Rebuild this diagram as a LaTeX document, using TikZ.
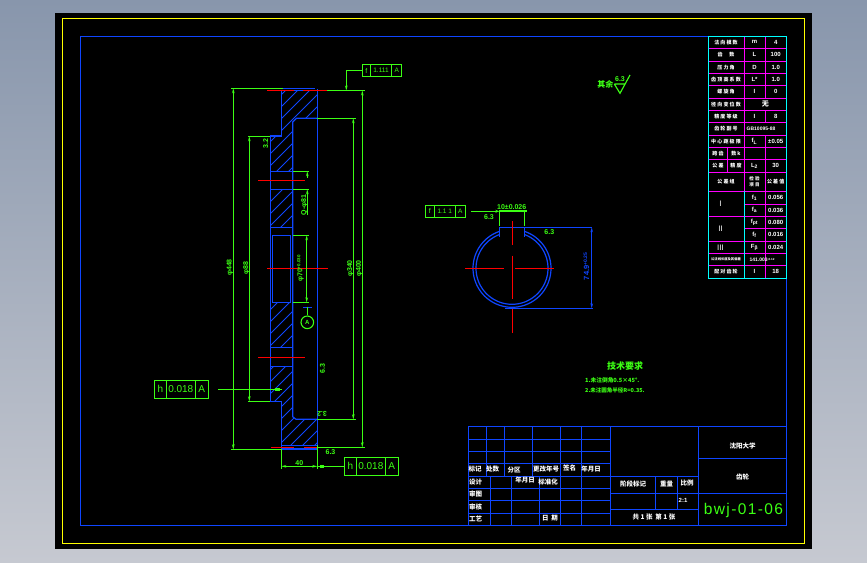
\documentclass[tikz,border=0pt]{standalone}
\usepackage{fontspec}
\setmainfont{Liberation Sans}
\newfontfamily\cjk{Noto Sans CJK SC}
\usetikzlibrary{arrows.meta}
\definecolor{cadgreen}{RGB}{60,255,20}
\definecolor{cadblue}{RGB}{15,70,255}
\definecolor{cadred}{RGB}{255,0,0}
\definecolor{cadyellow}{RGB}{255,255,0}
\definecolor{cadmag}{RGB}{255,0,255}
\definecolor{cadcyan}{RGB}{0,255,255}
\tikzset{
  gl/.style={draw=cadgreen,line width=1.15pt},
  bl/.style={draw=cadblue,line width=1.2pt},
  rl/.style={draw=cadred,line width=1.2pt},
  ml/.style={draw=cadmag,line width=1.15pt},
  cl/.style={draw=cadcyan,line width=1.2pt},
  hl/.style={draw=cadblue,line width=0.8pt},
  dimline/.style={gl,{Stealth[length=5pt,width=2.6pt]}-{Stealth[length=5pt,width=2.6pt]}},
  gt/.style={text=cadgreen,inner sep=0pt,font=\fontsize{7}{7}\selectfont\bfseries},
  bt/.style={text=cadblue,inner sep=0pt,font=\fontsize{7.5}{7.5}\selectfont\bfseries},
  wt/.style={text=white,inner sep=0pt,font=\fontsize{5}{5}\selectfont\cjk\bfseries},
  wn/.style={text=white,inner sep=0pt,font=\fontsize{6}{6}\selectfont\bfseries},
  tt/.style={text=white,inner sep=0pt,font=\fontsize{6.5}{6.5}\selectfont\cjk\bfseries},
  frametxt/.style={text=cadgreen,inner sep=0pt,font=\fontsize{10}{10}\selectfont},
}
\newcommand{\hatchfill}[1]{\begin{scope}\clip #1;\foreach \k in {260,272,...,800}{\draw[hl] (\k,80)--(\k-400,480);}\end{scope}}
\newcommand{\fcframe}[9]{%
  \draw[gl] (#1,#5) rectangle (#4,#6) (#2,#5)--(#2,#6) (#3,#5)--(#3,#6);
  \node[frametxt] at ({(#1+#2)/2},{(#5+#6)/2}) {#7};
  \node[frametxt] at ({(#2+#3)/2},{(#5+#6)/2}) {#8};
  \node[frametxt] at ({(#3+#4)/2},{(#5+#6)/2}) {#9};}
\begin{document}
\begin{tikzpicture}[x=1pt,y=-1pt]
\useasboundingbox (0,0) rectangle (867,562);
\shade[top color={rgb,255:red,136;green,150;blue,172},bottom color={rgb,255:red,198;green,201;blue,209}] (0,0) rectangle (867,562);
\fill[black] (55,13) rectangle (812,549);
\draw[draw=cadyellow,line width=1.2pt] (62.3,18.5) rectangle (804.3,543.3);
\draw[bl] (80.5,36.5) rectangle (786.3,525.3);
% hatching
\def\regA{(281.3,90.5)--(317.3,90.5)--(317.3,118.3)--(296.5,118.3)--(292.7,122)--(292.7,171.3)--(270.3,171.3)--(270.3,136)--(281.3,136)--cycle}
\def\regB{(270.3,189.3) rectangle (292.7,227.3)}
\def\regC{(270.3,302.3) rectangle (292.7,347.3)}
\def\regD{(270.3,366.3)--(292.7,366.3)--(292.7,416.7)--(296,419.3)--(317.3,419.3)--(317.3,445.3)--(281.3,445.3)--(281.3,401.3)--(270.3,401.3)--cycle}
\hatchfill{\regA}\hatchfill{\regB}\hatchfill{\regC}\hatchfill{\regD}
% section outline
\draw[bl] (283,88.5)--(315,88.5);
\draw[bl] (281.3,90.5)--(281.3,136)--(270.3,136)--(270.3,401.3)--(281.3,401.3)--(281.3,449)--(317.3,449);
\draw[bl] (281.3,90.5)--(317.3,90.5) (317.3,88.5)--(317.3,449);
\draw[bl] (317.3,118.3)--(296.5,118.3)--(292.7,122)--(292.7,416.7)--(296,419.3)--(317.3,419.3);
\draw[bl] (281.3,445.3)--(317.3,445.3);
\draw[bl] (270.3,171.3)--(292.7,171.3) (270.3,189.3)--(292.7,189.3) (270.3,227.3)--(292.7,227.3);
\draw[bl] (270.3,347.3)--(292.7,347.3) (270.3,366.3)--(292.7,366.3);
\draw[bl] (272.3,235.3) rectangle (290.5,302.3);
\draw[bl] (303,307.3)--(312,307.3);
% centre lines
\draw[rl] (267,90.5)--(294,90.5) (303,90.5)--(327,90.5);
\draw[rl] (258,180.3)--(305,180.3);
\draw[rl] (267,268.3)--(327.7,268.3);
\draw[rl] (258,357.3)--(305,357.3);
\draw[rl] (271,447.3)--(294,447.3) (304,447.3)--(320,447.3);
% extension lines
\coordinate (d1t) at (233.3,88.3); \coordinate (d1b) at (233.3,449.3);
\coordinate (d2t) at (249.3,136.3); \coordinate (d2b) at (249.3,401.3);
\coordinate (d3t) at (362.3,90.5); \coordinate (d3b) at (362.3,447.3);
\coordinate (d4t) at (353.3,118.3); \coordinate (d4b) at (353.3,419.3);
\draw[gl] (231.3,88.3)--(283,88.3) (231.3,449.3)--(281.3,449.3);
\draw[gl] (248,136.3)--(270.3,136.3) (248,401.3)--(270.3,401.3);
\draw[gl] (327,90.5)--(365,90.5) (317.3,447.3)--(365,447.3);
\draw[gl] (317.3,118.3)--(356,118.3) (317.3,419.3)--(356,419.3);
\draw[dimline] (d1t)--(d1b);
\draw[dimline] (d2t)--(d2b);
\draw[dimline] (d3t)--(d3b);
\draw[dimline] (d4t)--(d4b);
\draw[gl] (292.7,171.3)--(309,171.3) (292.7,189.3)--(309,189.3);
\draw[gl,{Stealth[length=5pt,width=2.6pt]}-] (307.3,171.3)--(307.3,178);
\draw[gl,-{Stealth[length=5pt,width=2.6pt]}] (307.3,215)--(307.3,189.3);
\draw[gl] (292.7,235.3)--(308.5,235.3) (292.7,302.3)--(308.5,302.3);
\draw[dimline] (306.7,235.3)--(306.7,302.3);
% dimension texts
\node[gt,rotate=90] (t448) at (230,267.5) {φ448};
\node[gt,rotate=90] (t88) at (246.3,268) {φ88};
\node[gt,rotate=90] (t340) at (350.5,268.5) {φ340};
\node[gt,rotate=90] (t400) at (359.2,268.5) {φ400};
\node[gt,rotate=90] (t81) at (304.3,205) {Q-φ81};
\node[gt,rotate=90] (t70) at (300.5,268.5) {φ70\raisebox{2pt}{\fontsize{4.5}{4.5}\selectfont +0.030}};
\node[gt] (t40) at (299.3,463) {40};
% roughness marks
\node[gt,rotate=90] (r1) at (265.8,143.3) {3.2};
\node[gt,rotate=90] (r2) at (322.5,368.3) {6.3};
\node[gt,rotate=180] (r3) at (322,413.5) {3.2};
\node[gt] (r4) at (330.5,452) {6.3};
\node[gt] (r5) at (489,216.8) {6.3};
\node[gt] (r6) at (549.3,232.3) {6.3};
% datum
\node[draw=cadgreen,line width=1.1pt,circle,minimum size=12.6pt,inner sep=0pt,text=cadgreen,font=\fontsize{6}{6}\selectfont\bfseries] (datum) at (307.3,322.3) {A};
\coordinate (dat0) at (307.3,307.3);
\draw[gl] (dat0)--(datum);
% control frames
\fcframe{362.3}{370.3}{391.7}{401.7}{64.3}{76.7}{\fontsize{7}{7}\selectfont f}{\fontsize{6.5}{6.5}\selectfont 1.111}{\fontsize{6.5}{6.5}\selectfont A}
\draw[gl,-{Stealth[length=5pt,width=2.6pt]}] (362.3,70.5)--(346.3,70.5)--(346.3,90.5);
\fcframe{154.3}{166.3}{195.3}{208.3}{380.3}{398.3}{h}{0.018}{A}
\draw[gl] (218,389.3)--(281.7,389.3);
\fill[cadgreen] (275,387.8) rectangle (279.5,390.8);
\fcframe{344.3}{356.3}{385.3}{398.3}{457.3}{475.3}{h}{0.018}{A}
\draw[gl] (281.3,449)--(281.3,469) (317.3,445.3)--(317.3,469);
\draw[gl] (317.3,466.3)--(344.3,466.3);
\draw[dimline] (281.3,466.3)--(317.3,466.3);
\fill[cadgreen] (320,465) rectangle (323.5,467.8);
% key view
\draw[bl] plot[domain=109.5:430.5,samples=90] ({512+39*cos(\x)},{268.3-39*sin(\x)});
\draw[bl] plot[domain=111.2:428.8,samples=90] ({512+36*cos(\x)},{268.3-36*sin(\x)});
\draw[bl] (499.3,236.7)--(499.3,227.3)--(591.7,227.3) (524.3,236.7)--(524.3,227.3);
\draw[bl] (505,308.3)--(593,308.3);
\draw[bl,{Stealth[length=5pt,width=2.6pt]}-{Stealth[length=5pt,width=2.6pt]}] (591.7,227.3)--(591.7,308.3);
\node[bt,rotate=90] (t749) at (586.5,266.5) {74.9\raisebox{2pt}{\fontsize{5}{5}\selectfont +0.25}};
\draw[rl] (465,268.3)--(504,268.3) (515,268.3)--(554,268.3);
\draw[rl] (512.3,221)--(512.3,244.7) (512.3,255.7)--(512.3,299) (512.3,309.3)--(512.3,333);
\draw[gl] (499.3,211)--(499.3,226) (524.3,211)--(524.3,226);
\draw[gl] (499.3,211)--(527,211);
\node[gt] (t10) at (511.7,207.3) {10±0.026};
\fcframe{425.3}{434.3}{455.3}{465.3}{205.3}{217.3}{\fontsize{7}{7}\selectfont f}{\fontsize{6.5}{6.5}\selectfont 1.1 1}{\fontsize{6.5}{6.5}\selectfont A}
\draw[gl,-{Stealth[length=4pt,width=3pt]}] (471,211.3)--(499.3,211.3);
% general finish
\node[text=cadgreen,inner sep=0pt,font=\fontsize{8}{8}\selectfont\cjk\bfseries] (qy) at (605.3,84.3) {其余};
\node[gt] (r7) at (620,79.3) {6.3};
\draw[gl] (614.3,84)--(625.7,84) (614.3,84)--(620,93.3)--(630,75);
% technical notes
\node[text=cadgreen,inner sep=0pt,font=\fontsize{9}{9}\selectfont\cjk\bfseries] (jsyq) at (625,366) {技术要求};
\node[text=cadgreen,inner sep=0pt,anchor=west,font=\fontsize{5.7}{5.7}\selectfont\cjk\bfseries] (n1) at (585,380) {1.未注倒角0.5×45°.};
\node[text=cadgreen,inner sep=0pt,anchor=west,font=\fontsize{5.5}{5.5}\selectfont\cjk\bfseries] (n2) at (585,390.7) {2.未注圆角半径R=0.35.};
% title block
\draw[bl] (468.3,426.3)--(786.3,426.3);
\draw[bl] (468.3,426.3)--(468.3,525.3);
\foreach \x in {486.3,504.3,532.3}{\draw[bl] (\x,426.3)--(\x,476.3);}
\foreach \x in {560.3,581.3,610.3}{\draw[bl] (\x,426.3)--(\x,525.3);}
\foreach \x in {490.3,511.3,539.3}{\draw[bl] (\x,476.3)--(\x,525.3);}
\foreach \y in {439.3,451.3,463.3,476.3,488.3,500.3,513.3}{\draw[bl] (468.3,\y)--(610.3,\y);}
\draw[bl] (698.3,426.3)--(698.3,525.3);
\draw[bl] (698.3,458.3)--(786.3,458.3) (698.3,493.3)--(786.3,493.3);
\draw[bl] (610.3,476.3)--(698.3,476.3) (610.3,493.3)--(698.3,493.3) (610.3,509.3)--(698.3,509.3);
\draw[bl] (655.3,476.3)--(655.3,509.3) (677.7,476.3)--(677.7,509.3);
\foreach \x/\y/\t in {475/469.3/标记,492.5/469/处数,514/469.8/分区,546/469.3/更改年号,569.5/468/签名,591/469/年月日,
  475.5/482.3/设计,525/480.5/年月日,548/482/标准化,475.5/494.3/审图,475.5/506.5/审核,475.5/519.3/工艺,
  633/483.5/阶段标记,666.5/484/重量,687/483.5/比例,742.5/446/沈阳大学,742.5/477.5/齿轮}
  {\node[tt] at (\x,\y) {\t};}
\node[tt] at (550,518.5) {日\ \ 期};
\node[wn] at (683,500.5) {2:1};
\node[tt] at (654,517) {共\ 1\ 张\ \ 第\ 1\ 张};
\node[text=cadgreen,inner sep=0pt,font=\fontsize{15.5}{15.5}\selectfont\addfontfeatures{LetterSpace=9}] (dwg) at (743.5,510) {bwj-01-06};
% parameter table
\fill[black] (708.3,36.3) rectangle (786.3,278.3);
\foreach \y in {48.3,61.3,73.3,85.3,98.3,110.3,122.3,135.3,147.3,159.3,172.3,191.3,216.3,241.3,253.3,265.3}{\draw[ml] (708.3,\y)--(786.3,\y);}
\foreach \y in {204.3,228.3}{\draw[ml] (744.3,\y)--(786.3,\y);}
\draw[ml] (744.3,36.3)--(744.3,191.3);
\foreach \a/\b in {36.3/98.3,110.3/122.3,135.3/278.3}{\draw[ml] (765.3,\a)--(765.3,\b);}
\draw[ml] (727.7,147.3)--(727.7,172.3);
\draw[cl] (744.3,191.3)--(744.3,278.3);
\draw[cl] (708.3,36.3) rectangle (786.3,278.3);
\foreach \y/\t in {42.3/法 向 模 数,54.8/齿\ \ \ \ \ \ 数,67.3/压 力 角,79.3/齿 顶 高 系 数,91.8/螺 旋 角,104.3/径 向 变 位 数,116.3/精 度 等 级,128.8/齿 轮 副 号,141.3/中 心 距 极 限}
  {\node[wt] at (726,\y) {\t};}
\foreach \x/\y/\t in {718/153.3/跨 齿,736/153.3/数 k,718/165.8/公 差,736/165.8/精 度,726/181.8/公 差 组,726/271.8/配 对 齿 轮}
  {\node[wt] at (\x,\y) {\t};}
\node[wt,align=center,font=\fontsize{4.5}{6}\selectfont\cjk\bfseries] at (754.5,181.8) {检 验\\项 目};
\node[wt] at (775.7,181.8) {公 差 值};
\foreach \y/\t in {42.3/m,54.8/L,67.3/D,79.3/L*,91.8/I,116.3/I,141.3/f\textsubscript{L},165.8/L\textsubscript{2},197.8/f\textsubscript{1},210.3/f\textsubscript{a},222.3/f\textsubscript{pt},234.8/f\textsubscript{f},247.3/F\textsubscript{β},271.8/I}
  {\node[wn] at (754.5,\y) {\t};}
\foreach \y/\t in {42.3/4,54.8/100,67.3/1.0,79.3/1.0,91.8/0,116.3/8,141.3/±0.05,165.8/30,197.8/0.056,210.3/0.036,222.3/0.080,234.8/0.016,247.3/0.024,271.8/18}
  {\node[wn] at (775.7,\y) {\t};}
\node[wt,font=\fontsize{7}{7}\selectfont\cjk\bfseries] at (765.3,104.3) {无};
\node[wn,font=\fontsize{5}{5}\selectfont\bfseries] at (761,128.8) {GB10095-88};
\node[wt,font=\fontsize{3.3}{3.3}\selectfont\cjk\bfseries] at (726,259.3) {公法线长度及其偏差};
\node[wn,font=\fontsize{5}{5}\selectfont\bfseries] at (762,259.3) {141.003\raisebox{1pt}{\fontsize{3}{3}\selectfont -0.12}};
\foreach \y/\t in {203.8/I,228.8/II,247.3/III}{\node[text=white,inner sep=0pt,font=\fontsize{8}{8}\selectfont] at (720.5,\y) {\t};}
\end{tikzpicture}
\end{document}
